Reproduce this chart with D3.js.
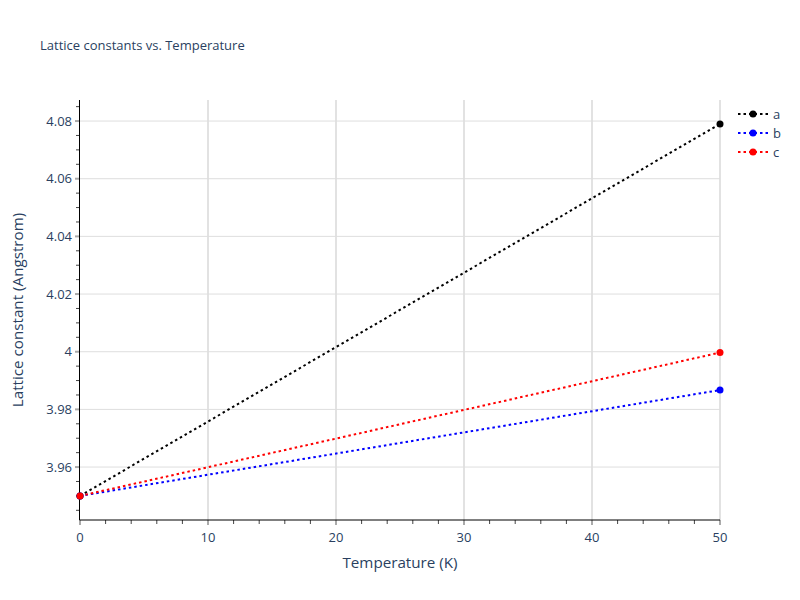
<!DOCTYPE html>
<html>
<head>
<meta charset="utf-8">
<script src="https://cdn.jsdelivr.net/npm/d3@7"></script>
<style>
body{margin:0;background:#fff;}
text{font-family:"Open Sans",sans-serif;}
</style>
</head>
<body>
<svg id="chart" width="800" height="600"></svg>
<script>
const seriesNames = ["a","b","c"];
const seriesColors = ["black","blue","red"];
const temperatures = [0, 50];
const aValues = [3.95, 4.0790];
const bValues = [3.95, 3.9867];
const cValues = [3.95, 3.9997];
const xTicks = [0,10,20,30,40,50];
const yTicks = [3.96,3.98,4.00,4.02,4.04,4.06,4.08];
const yTickLabels = ["3.96","3.98","4","4.02","4.04","4.06","4.08"];
const allValues = [aValues,bValues,cValues];

(function(){
const svg = d3.select("#chart");
const pL=80,pR=720,pT=100,pB=520;
const x = d3.scaleLinear().domain([0,50]).range([pL,pR]);
const y = d3.scaleLinear().domain([3.94164,4.0873]).range([pB,pT]);
const textColor = "#2a3f5f";

// gridlines
svg.append("g").selectAll("line").data(xTicks.filter(d=>d>0)).join("line")
  .attr("x1",d=>x(d)).attr("x2",d=>x(d)).attr("y1",pT).attr("y2",pB)
  .attr("stroke","#e2e2e2").attr("stroke-width",2);
svg.append("g").selectAll("line").data(yTicks).join("line")
  .attr("x1",pL).attr("x2",pR).attr("y1",d=>y(d)).attr("y2",d=>y(d))
  .attr("stroke","#dedede").attr("stroke-width",1);

// minor ticks
const xMinor = d3.range(0,50.001,2).filter(d=>d%10!==0);
svg.append("g").selectAll("line").data(xMinor).join("line")
  .attr("x1",d=>x(d)).attr("x2",d=>x(d)).attr("y1",pB).attr("y2",pB+4)
  .attr("stroke","#444").attr("stroke-width",1);
const yMinor = d3.range(3.945,4.0871,0.005).filter(d=>Math.abs(Math.round(d*50)-d*50)>0.01);
svg.append("g").selectAll("line").data(yMinor).join("line")
  .attr("x1",pL-4).attr("x2",pL).attr("y1",d=>y(d)).attr("y2",d=>y(d))
  .attr("stroke","#444").attr("stroke-width",1);

// major ticks
svg.append("g").selectAll("line").data(xTicks).join("line")
  .attr("x1",d=>x(d)).attr("x2",d=>x(d)).attr("y1",pB).attr("y2",pB+5)
  .attr("stroke","#aaa").attr("stroke-width",2);
svg.append("g").selectAll("line").data(yTicks).join("line")
  .attr("x1",pL-5).attr("x2",pL).attr("y1",d=>y(d)).attr("y2",d=>y(d))
  .attr("stroke","#aaa").attr("stroke-width",2);

// axis lines
svg.append("line").attr("x1",pL-0.5).attr("x2",pR).attr("y1",pB).attr("y2",pB).attr("stroke","black").attr("stroke-width",1);
svg.append("line").attr("x1",pL-0.5).attr("x2",pL-0.5).attr("y1",pT).attr("y2",pB).attr("stroke","black").attr("stroke-width",1);

// tick labels
svg.append("g").selectAll("text").data(xTicks).join("text")
  .attr("x",d=>x(d)).attr("y",pB+22).attr("text-anchor","middle")
  .attr("font-size",13).attr("fill",textColor).text(d=>d);
svg.append("g").selectAll("text").data(yTicks).join("text")
  .attr("x",pL-8).attr("y",d=>y(d)+4.5).attr("text-anchor","end")
  .attr("font-size",13).attr("fill",textColor).text((d,i)=>yTickLabels[i]);

// axis titles
svg.append("text").attr("x",(pL+pR)/2).attr("y",568).attr("text-anchor","middle")
  .attr("font-size",15.2).attr("fill",textColor).text("Temperature (K)");
svg.append("text").attr("transform",`translate(23,${(pT+pB)/2}) rotate(-90)`)
  .attr("text-anchor","middle").attr("font-size",15.2).attr("fill",textColor).text("Lattice constant (Angstrom)");

// title
svg.append("text").attr("x",40).attr("y",50).attr("font-size",13).attr("fill",textColor)
  .text("Lattice constants vs. Temperature");

// series
const line = d3.line().x((d,i)=>x(temperatures[i])).y(d=>y(d));
allValues.forEach((vals,si)=>{
  const g = svg.append("g");
  g.append("path").attr("d",line(vals)).attr("fill","none")
    .attr("stroke",seriesColors[si]).attr("stroke-width",2).attr("stroke-dasharray","2.5,3");
  g.selectAll("circle").data(vals).join("circle")
    .attr("cx",(d,i)=>x(temperatures[i])).attr("cy",d=>y(d)).attr("r",3.5)
    .attr("fill",seriesColors[si]);
});

// legend
seriesNames.forEach((name,i)=>{
  const ly = 114 + i*19;
  const g = svg.append("g");
  g.append("line").attr("x1",738).attr("x2",768).attr("y1",ly).attr("y2",ly)
    .attr("stroke",seriesColors[i]).attr("stroke-width",2).attr("stroke-dasharray","2.5,3");
  g.append("circle").attr("cx",753).attr("cy",ly).attr("r",3.5).attr("fill",seriesColors[i]);
  g.append("text").attr("x",773).attr("y",ly+4.5).attr("font-size",13).attr("fill",textColor).text(name);
});
})();
</script>
</body>
</html>
